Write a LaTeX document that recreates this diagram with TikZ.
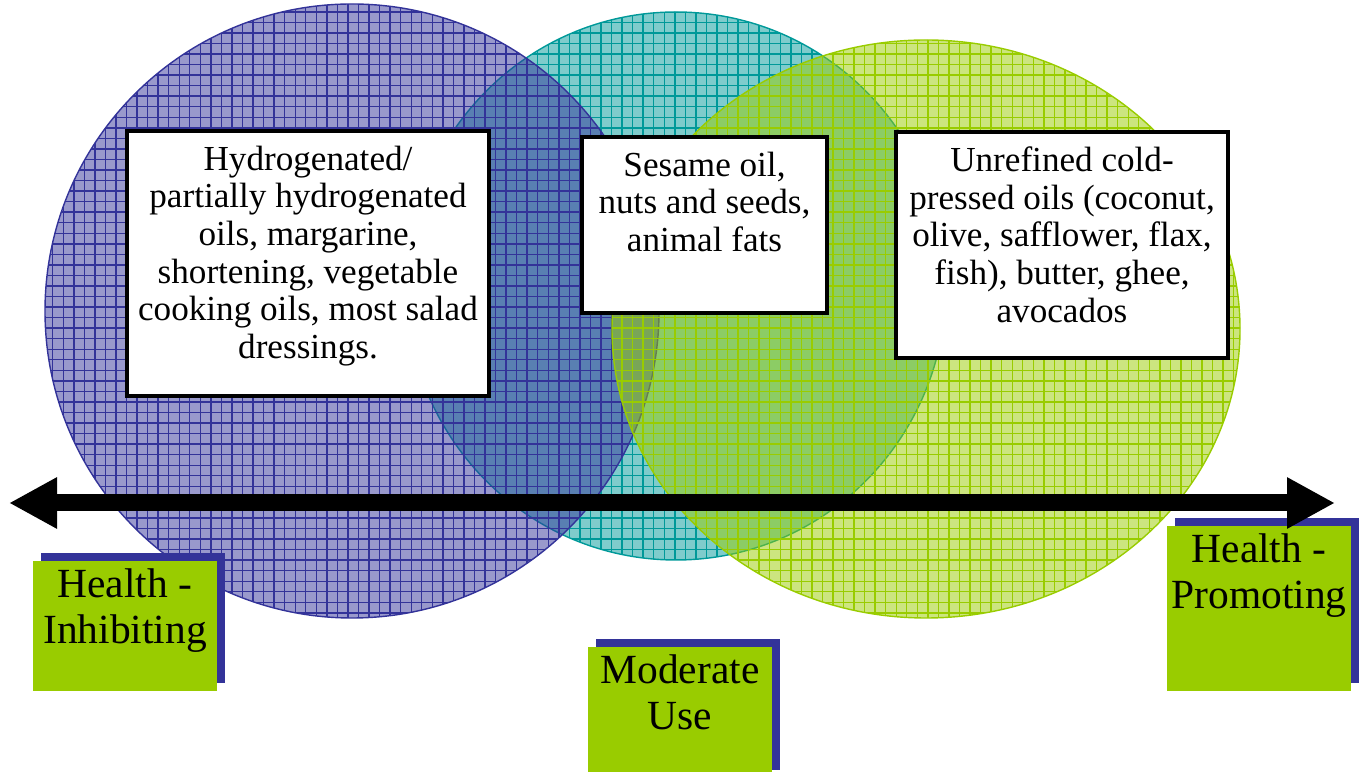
\documentclass[tikz,border=0pt]{standalone}
\usepackage{fontspec}
\setmainfont{Liberation Serif}
\usepackage{tikz}
\usetikzlibrary{patterns,shadows,arrows.meta}

\definecolor{inhibit}{HTML}{333399}
\definecolor{moderate}{HTML}{009999}
\definecolor{promote}{HTML}{99CC00}

\begin{document}
\begin{tikzpicture}[
  oilfill/.style={fill opacity=0.5},
  oilgrid/.style={pattern=grid,fill opacity=0.6},
  foodbox/.style={draw=black,line width=1pt,fill=white,inner sep=0pt},
  foodtext/.style={anchor=north,align=center,inner sep=0pt,font=\fontsize{10}{10.7}\selectfont},
  tagbox/.style={fill=promote,inner sep=0pt,minimum width=1.84cm,
     drop shadow={shadow xshift=0.08cm,shadow yshift=0.08cm,fill=inhibit,opacity=1}},
  tagtext/.style={anchor=north,align=center,inner sep=0pt,font=\fontsize{11.8}{13.1}\selectfont}]

\useasboundingbox (0,0) rectangle (13.63,7.71);

\fill[moderate,oilfill] (6.76,4.85) ellipse (2.70 and 2.74);
\fill[oilgrid,pattern color=moderate] (6.76,4.85) ellipse (2.70 and 2.74);
\draw[moderate] (6.76,4.85) ellipse (2.70 and 2.74);

\fill[inhibit,oilfill] (3.52,4.60) ellipse (3.07 and 3.07);
\fill[oilgrid,pattern color=inhibit] (3.52,4.60) ellipse (3.07 and 3.07);
\draw[inhibit] (3.52,4.60) ellipse (3.07 and 3.07);

\fill[promote,oilfill] (9.26,4.42) ellipse (3.14 and 2.89);
\fill[oilgrid,pattern color=promote] (9.26,4.42) ellipse (3.14 and 2.89);
\draw[promote] (9.26,4.42) ellipse (3.14 and 2.89);

\node[foodbox,minimum width=3.62cm,minimum height=2.65cm] (hydro) at (3.08,5.075) {};
\node[foodtext] at ([yshift=-0.16cm]hydro.north)
   {Hydrogenated/\\partially hydrogenated\\oils, margarine,\\shortening, vegetable\\cooking oils, most salad\\dressings.};
\node[foodbox,minimum width=2.45cm,minimum height=1.76cm] (sesame) at (7.045,5.46) {};
\node[foodtext] at ([yshift=-0.16cm]sesame.north)
   {Sesame oil,\\nuts and seeds,\\animal fats};
\node[foodbox,minimum width=3.32cm,minimum height=2.26cm] (coldpress) at (10.62,5.26) {};
\node[foodtext] at ([yshift=-0.16cm]coldpress.north)
   {Unrefined cold-\\pressed oils (coconut,\\olive, safflower, flax,\\fish), butter, ghee,\\avocados};

\node[tagbox,minimum height=1.30cm] (inhibiting) at (1.25,1.45) {};
\node[tagtext] at ([yshift=-0.08cm]inhibiting.north) {Health -\\Inhibiting};
\node[tagbox,minimum height=1.65cm] (promoting) at (12.59,1.625) {};
\node[tagtext] at ([yshift=-0.08cm]promoting.north) {Health -\\Promoting};
\node[tagbox,minimum height=1.31cm] (moderateuse) at (6.80,0.585) {};
\node[tagtext] at ([yshift=-0.08cm]moderateuse.north) {Moderate\\Use};

\coordinate (worst) at (0.09,2.68);
\coordinate (best) at (13.35,2.68);
\draw[line width=0.17cm,{Triangle[length=0.48cm,width=0.48cm]}-{Triangle[length=0.48cm,width=0.48cm]}] (worst) -- (best);
\end{tikzpicture}
\end{document}
